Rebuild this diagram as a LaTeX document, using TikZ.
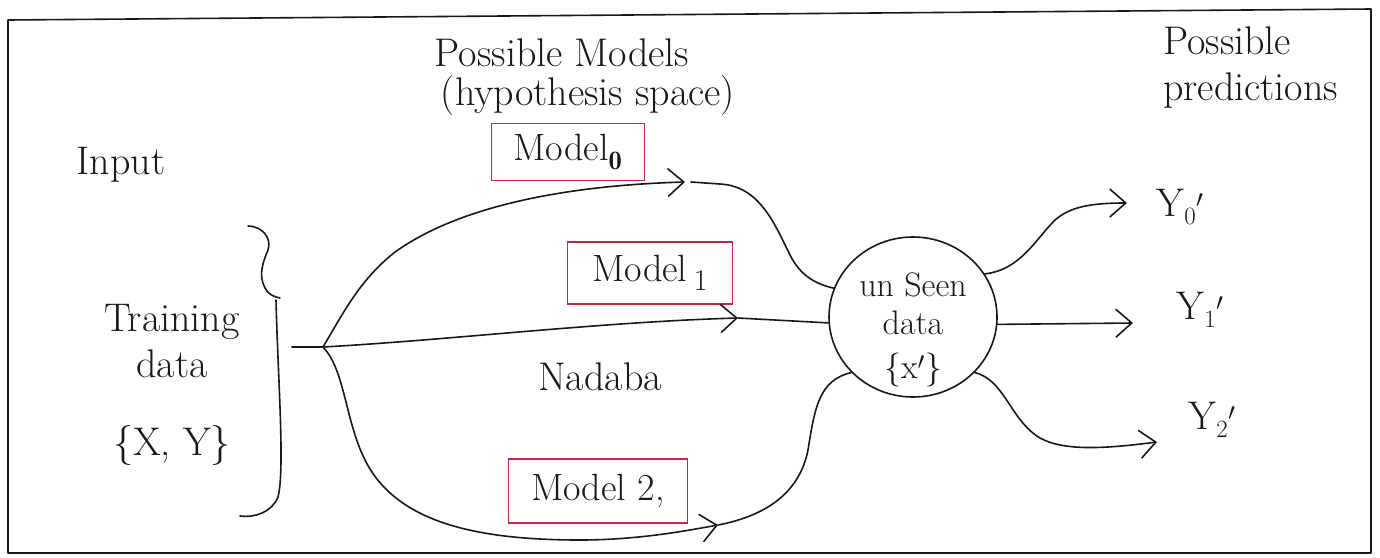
\documentclass[tikz,border=0pt]{standalone}
\usepackage{fontspec}
\usetikzlibrary{arrows.meta,shapes.geometric}

\definecolor{inkc}{RGB}{25,25,25}
\definecolor{boxred}{RGB}{185,45,70}

\tikzset{
  pen/.style={draw=inkc, line width=1.6pt, line cap=round, line join=round},
  flow/.style={pen, -{Straight Barb[length=16pt,width=28pt,line width=1.6pt]}},
  hand/.style={font=\fontsize{40}{46}\selectfont, text=inkc, inner sep=0pt},
  small/.style={font=\fontsize{34}{38}\selectfont, text=inkc, inner sep=0pt},
  modelbox/.style={draw=boxred, line width=1.6pt, inner sep=0pt, text=inkc,
    font=\fontsize{38}{44}\selectfont},
}

\begin{document}
\begin{tikzpicture}[x=1pt,y=-1pt]
\fill[white] (0,0) rectangle (1380,557);
\useasboundingbox (0,0) rectangle (1380,557);

% outer frame
\draw[pen] (8,20) -- (1371,9) -- (1371,553) -- (8,553) -- cycle;

% headings
\node[hand] (ph) at (562,53) {Possible Models};
\node[hand] (hs) at (588,96) {(hypothesis space)};
\node[hand, anchor=west, align=left] (pp) at (1163,68) {Possible\\predictions};
\node[hand] (inp) at (121,165) {Input};

% training data with its brace
\node[hand, align=center] (train) at (172,385) {Training\\data\\[32pt]\{X, Y\}};
\draw[pen] (248,226) .. controls (262,226) and (272,238) .. (268,250)
  .. controls (263,262) and (258,275) .. (265,288)
  .. controls (268,294) and (274,297) .. (280,298);
\draw[pen] (276,300) .. controls (278,380) and (285,470) .. (278,497)
  .. controls (272,512) and (255,518) .. (240,516);

% candidate models
\node[modelbox, minimum width=153, minimum height=57] (m0) at (568,152) {Model$_{\mathbf{0}}$};
\node[modelbox, minimum width=165, minimum height=62] (m1) at (650,273)
  {Model\,\raisebox{-9pt}{\fontsize{30}{32}\selectfont 1}};
\node[modelbox, minimum width=179, minimum height=64] (m2) at (598,491) {Model 2,};
\node[hand] (nd) at (600,377) {Nadaba};

% unseen data
\node[ellipse, pen, minimum width=168, minimum height=160, inner sep=0pt] (unseen) at (913,317) {};
\node[small, align=center] (ustext) at ([yshift=-13pt]unseen.center)
  {un Seen\\data\\[6pt]\{x$'$\}};

% predictions
\node[hand] (y0) at (1180,207) {$\mathrm{Y}_0{}'$};
\node[hand] (y1) at (1200,310) {$\mathrm{Y}_1{}'$};
\node[hand] (y2) at (1212,420) {$\mathrm{Y}_2{}'$};

% arrow ends
\coordinate (stub) at (292,347);
\coordinate (split) at (323,347);
\coordinate (a0) at (685,182);
\coordinate (a1) at (738,318);
\coordinate (a2) at (718,525);
\coordinate (o0) at (1127,203);
\coordinate (o1) at (1133,323);
\coordinate (o2) at (1157,442);

% from training data through each model to the unseen data
\draw[pen] (stub) -- (split);
\draw[flow] (split) .. controls (345,310) and (360,280) .. (395,252)
  .. controls (465,202) and (580,185) .. (a0);
\draw[pen] ([xshift=6pt]a0) -- (720,184) .. controls (760,186) and (775,225) .. (790,255)
  .. controls (800,275) and (815,284) .. (unseen.160);

\draw[flow] (split) .. controls (450,340) and (600,322) .. (a1);
\draw[pen] (a1) -- (unseen.184);

\draw[flow] (split) .. controls (345,370) and (345,420) .. (365,460)
  .. controls (395,520) and (470,540) .. (580,540)
  .. controls (640,540) and (690,530) .. (a2);
\draw[pen] (a2) .. controls (770,515) and (800,490) .. (808,450)
  .. controls (815,405) and (820,380) .. (unseen.222);

% from the unseen data to the predictions
\draw[flow] (unseen.31) .. controls (1020,270) and (1035,240) .. (1055,220)
  .. controls (1070,207) and (1090,203) .. (o0);
\draw[flow] (unseen.-5) -- (o1);
\draw[flow] (unseen.-42) .. controls (1005,380) and (1010,420) .. (1040,438)
  .. controls (1065,452) and (1110,448) .. (o2);
\end{tikzpicture}
\end{document}
